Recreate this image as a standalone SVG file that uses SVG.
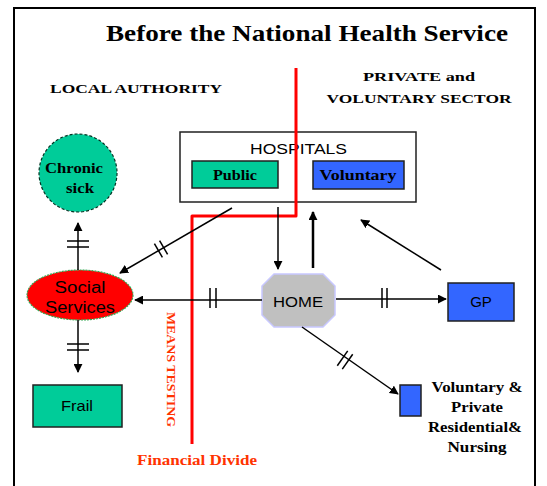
<svg xmlns="http://www.w3.org/2000/svg" width="547" height="486" viewBox="0 0 547 486">
<defs>
<marker id="ah" viewBox="0 0 10 10" refX="9" refY="5" markerWidth="9" markerHeight="9" markerUnits="userSpaceOnUse" orient="auto">
<path d="M0,0 L10,5 L0,10 z" fill="#000"/>
</marker>
</defs>
<style>
.serifb{font-family:"Liberation Serif","Times New Roman",serif;font-weight:bold;}
.sans{font-family:"Liberation Sans",Arial,sans-serif;}
.box{stroke:#202020;stroke-width:1.5;}
.teal{fill:#00CC99;}
.blue{fill:#3366FF;}
.conn line,.conn path{stroke:#000;stroke-width:1.5;fill:none;}
.tick{stroke:#000;stroke-width:1.5;}
.red{fill:#FF3300;}
</style>
<rect width="547" height="486" fill="#fff"/>
<rect x="14" y="8" width="521" height="490" fill="none" stroke="#000" stroke-width="2"/>

<g id="title">
<text class="serifb" x="106" y="41" font-size="24" textLength="402" lengthAdjust="spacingAndGlyphs">Before the National Health Service</text>
</g>
<g id="local-authority">
<text class="serifb" x="50" y="93" font-size="13" textLength="172" lengthAdjust="spacingAndGlyphs">LOCAL AUTHORITY</text>
</g>
<g id="private-sector">
<text class="serifb" x="419" y="81" font-size="13" text-anchor="middle" textLength="112" lengthAdjust="spacingAndGlyphs">PRIVATE and</text>
<text class="serifb" x="419" y="103" font-size="13" text-anchor="middle" textLength="185" lengthAdjust="spacingAndGlyphs">VOLUNTARY SECTOR</text>
</g>

<g id="hospitals">
<rect x="180" y="132" width="236" height="70" fill="#fff" class="box"/>
<text class="sans" x="250" y="154" font-size="14" textLength="97" lengthAdjust="spacingAndGlyphs">HOSPITALS</text>
</g>
<g id="public">
<rect x="192" y="161" width="86" height="27" class="teal box"/>
<text class="serifb" x="235" y="180" font-size="14" text-anchor="middle" textLength="44" lengthAdjust="spacingAndGlyphs">Public</text>
</g>
<g id="voluntary">
<rect x="313" y="161" width="91" height="28" class="blue box"/>
<text class="serifb" x="358" y="180" font-size="14" text-anchor="middle" textLength="77" lengthAdjust="spacingAndGlyphs">Voluntary</text>
</g>

<g id="divide">
<path d="M296,68 V216 H192 V444" fill="none" stroke="#FF0000" stroke-width="3" stroke-linejoin="round"/>
<text class="serifb red" transform="translate(167,312) rotate(90)" font-size="13" textLength="115" lengthAdjust="spacingAndGlyphs">MEANS TESTING</text>
<text class="serifb red" x="137" y="465" font-size="15" textLength="120" lengthAdjust="spacingAndGlyphs">Financial Divide</text>
</g>

<g id="chronic-sick">
<circle cx="78" cy="173" r="39" class="teal" stroke="#003322" stroke-width="1.2" stroke-dasharray="3,2"/>
<text class="serifb" x="74" y="173" font-size="14" text-anchor="middle" textLength="58" lengthAdjust="spacingAndGlyphs">Chronic</text>
<text class="serifb" x="80" y="193" font-size="14" text-anchor="middle" textLength="28" lengthAdjust="spacingAndGlyphs">sick</text>
</g>

<g id="social-services">
<ellipse cx="80" cy="295" rx="53" ry="25" fill="#FF0000" stroke="#33AA55" stroke-width="1.2" stroke-dasharray="2,1"/>
<text class="sans" x="80" y="293" font-size="16" text-anchor="middle" textLength="51" lengthAdjust="spacingAndGlyphs">Social</text>
<text class="sans" x="80" y="313" font-size="16" text-anchor="middle" textLength="70" lengthAdjust="spacingAndGlyphs">Services</text>
</g>

<g id="frail">
<rect x="33" y="385" width="89" height="42" class="teal box"/>
<text class="sans" x="77" y="411" font-size="15" text-anchor="middle" textLength="32" lengthAdjust="spacingAndGlyphs">Frail</text>
</g>

<g id="home">
<polygon points="274,274 323,274 335,286 335,315 323,327 274,327 262,315 262,286" fill="#C0C0C0" stroke="#C8C8FF" stroke-width="1.5"/>
<text class="sans" x="298" y="307" font-size="15" text-anchor="middle" textLength="50" lengthAdjust="spacingAndGlyphs">HOME</text>
</g>

<g id="gp">
<rect x="448" y="283" width="66" height="38" class="blue box"/>
<text class="sans" x="481" y="307" font-size="15" text-anchor="middle">GP</text>
</g>

<g id="residential">
<rect x="400" y="385" width="21" height="31" class="blue box"/>
<text class="serifb" x="477" y="392" font-size="14" text-anchor="middle" textLength="91" lengthAdjust="spacingAndGlyphs">Voluntary &amp;</text>
<text class="serifb" x="477" y="412" font-size="14" text-anchor="middle" textLength="52" lengthAdjust="spacingAndGlyphs">Private</text>
<text class="serifb" x="475" y="432" font-size="14" text-anchor="middle" textLength="94" lengthAdjust="spacingAndGlyphs">Residential&amp;</text>
<text class="serifb" x="477" y="452" font-size="14" text-anchor="middle" textLength="59" lengthAdjust="spacingAndGlyphs">Nursing</text>
</g>

<g id="connectors" class="conn">
<line x1="78" y1="270" x2="78" y2="223" marker-end="url(#ah)"/>
<line class="tick" x1="67" y1="241" x2="89" y2="241"/>
<line class="tick" x1="67" y1="247" x2="89" y2="247"/>

<line x1="78" y1="320" x2="78" y2="372" marker-end="url(#ah)"/>
<line class="tick" x1="67" y1="344" x2="89" y2="344"/>
<line class="tick" x1="67" y1="350" x2="89" y2="350"/>

<line x1="232" y1="208" x2="120" y2="273" marker-end="url(#ah)"/>
<line class="tick" x1="154.4" y1="243.6" x2="162.4" y2="257.4"/>
<line class="tick" x1="159.6" y1="240.6" x2="167.6" y2="254.4"/>

<line x1="262" y1="300" x2="135" y2="300" marker-end="url(#ah)"/>
<line class="tick" x1="210" y1="288" x2="210" y2="308"/>
<line class="tick" x1="216" y1="288" x2="216" y2="308"/>

<line x1="278" y1="207" x2="278" y2="269" marker-end="url(#ah)"/>
<line x1="313" y1="268" x2="313" y2="212" style="stroke-width:2.5" marker-end="url(#ah)"/>

<line x1="441" y1="270" x2="361" y2="220" marker-end="url(#ah)"/>

<line x1="336" y1="299" x2="446" y2="299" marker-end="url(#ah)"/>
<line class="tick" x1="382" y1="288" x2="382" y2="308"/>
<line class="tick" x1="387" y1="288" x2="387" y2="308"/>

<line x1="302" y1="327" x2="398" y2="394" marker-end="url(#ah)"/>
<line class="tick" x1="347.7" y1="350.9" x2="337.3" y2="365.7"/>
<line class="tick" x1="352.7" y1="354.3" x2="342.3" y2="369.1"/>
</g>
</svg>
